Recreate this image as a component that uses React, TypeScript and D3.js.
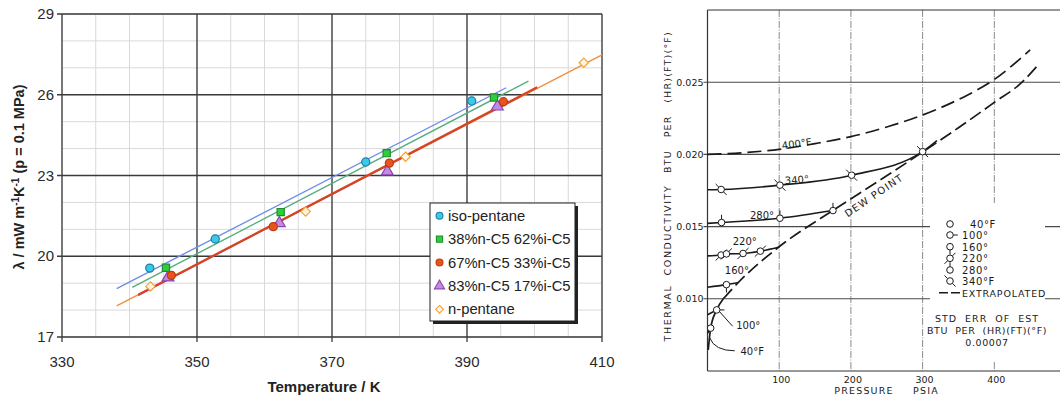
import React from 'react';
import * as d3 from 'd3';

// ---- left panel: thermal conductivity of pentane mixtures ----
const seriesNames = ['iso-pentane', '38%n-C5 62%i-C5', '67%n-C5 33%i-C5', '83%n-C5 17%i-C5', 'n-pentane'];
const seriesTemps = [
  [343.0, 352.7, 375.0, 390.7],
  [345.4, 362.4, 378.1, 394.0],
  [346.2, 361.3, 378.5, 395.4],
  [345.7, 362.2, 378.2, 394.5],
  [343.1, 366.1, 380.9, 407.3],
];
const seriesLambda = [
  [19.56, 20.64, 23.5, 25.77],
  [19.57, 21.64, 23.83, 25.9],
  [19.29, 21.1, 23.46, 25.74],
  [19.21, 21.23, 23.15, 25.56],
  [18.88, 21.66, 23.7, 27.19],
];
// fitted lines, start and end
const fitTemps = [[338.1, 395.8], [340.4, 399.1], [341.3, 400.4], [341.3, 398.0], [338.1, 410.0]];
const fitLambda = [[18.8, 26.26], [18.84, 26.51], [18.57, 26.28], [18.55, 25.95], [18.16, 27.48]];
const tempTicks = [330, 350, 370, 390, 410];
const lambdaTicks = [17, 20, 23, 26, 29];

const fills = ['#3cc8e8', '#2fcc3c', '#e8541e', '#c48ae2', '#fff6e6'];
const strokes = ['#1b7fa6', '#1d8f2c', '#b93c12', '#8a44b0', '#f5a133'];
const lineColors = ['#6f8de8', '#56ad80', '#d8441e', '#9a4cc0', '#f58c3c'];
const symbols = [d3.symbolCircle, d3.symbolSquare, d3.symbolCircle, d3.symbolTriangle, d3.symbolDiamond2];

// ---- right panel: scanned chart, conductivity vs pressure ----
const p400 = [0, 50, 100, 150, 200, 250, 300, 350, 400, 450];
const k400 = [0.02, 0.02012, 0.02035, 0.02075, 0.02123, 0.0219, 0.02273, 0.0238, 0.02519, 0.02724];
const pDew = [1, 4.4, 12.8, 22, 43, 99, 175, 240, 301, 350, 400, 438, 463];
const kDew = [0.00646, 0.00797, 0.00923, 0.01, 0.01113, 0.01357, 0.01612, 0.0182, 0.02019, 0.02185, 0.0236, 0.02497, 0.0263];
const p340 = [0, 19, 101, 201, 300, 320];
const k340 = [0.01755, 0.01757, 0.01787, 0.01856, 0.02019, 0.02095];
const p280 = [0, 19.6, 101, 175];
const k280 = [0.01522, 0.01528, 0.01558, 0.01611];
const p220 = [0, 19, 26.4, 49.6, 73.7, 99];
const k220 = [0.01297, 0.01303, 0.01311, 0.01314, 0.0133, 0.01357];
const p160 = [0, 26.4, 43];
const k160 = [0.0108, 0.01098, 0.01113];
const p100 = [0, 12.8];
const k100 = [0.0089, 0.00923];
const p40 = [0, 4.4];
const k40 = [0.0076, 0.00797];
// measured points on each isotherm
const ptP = [[4.4], [12.8], [26.4], [19, 26.4, 49.6, 73.7], [19.6, 101, 175], [19, 101, 201, 300]];
const ptK = [[0.00797], [0.00923], [0.01098], [0.01303, 0.01311, 0.01314, 0.0133], [0.01528, 0.01558, 0.01611], [0.01757, 0.01787, 0.01856, 0.02019]];
const isoLegend = ['40°F', '100°', '160°', '220°', '280°', '340°F'];
const flagAngles = [[], [0], [90], [-45, 135], [-90], [-135, 45]];
const pressureTicks = [100, 200, 300, 400];
const condTicks = [0.01, 0.015, 0.02, 0.025];

const ink = '#1a1a1a';
const scanFont = '"DejaVu Sans", sans-serif';

function Flagged({ cx, cy, flags }: { cx: number; cy: number; flags: number[] }) {
  const r = 3.3;
  return (
    <g>
      {flags.map((a, i) => {
        const t = (a * Math.PI) / 180;
        return (
          <line key={i} x1={cx + r * Math.cos(t)} y1={cy + r * Math.sin(t)}
            x2={cx + (r + 4.5) * Math.cos(t)} y2={cy + (r + 4.5) * Math.sin(t)}
            stroke={ink} strokeWidth={1} />
        );
      })}
      <circle cx={cx} cy={cy} r={r} fill="#fff" stroke={ink} strokeWidth={1} />
    </g>
  );
}

export default function App() {
  // left panel scales
  const x = d3.scaleLinear().domain([330, 410]).range([62, 602]);
  const y = d3.scaleLinear().domain([17, 29]).range([337, 14]);
  const minorX = d3.range(330, 411, 5);
  const minorY = d3.range(17, 29.5, 1);
  const sym = (i: number, size: number) => d3.symbol().type(symbols[i]).size(size)() as string;
  const drawOrder = [4, 3, 2, 1, 0];

  // right panel scales
  const px = d3.scaleLinear().domain([0, 500]).range([707.5, 1066]);
  const ky = d3.scaleLinear().domain([0.005, 0.03]).range([371, 10]);
  const curve = (ps: number[], ks: number[]) =>
    d3.line<number>().x((p) => px(p)).y((_, i) => ky(ks[i])).curve(d3.curveMonotoneX)(ps) as string;
  const dewSolidN = 4;
  const legX = 950;
  const legY = [224, 235, 246.7, 258.3, 270, 281, 292.7];

  return (
    <svg width={1060} height={397} style={{ position: 'absolute', left: 0, top: 0, background: '#fff' }}>
      {/* ================= LEFT PANEL ================= */}
      <g>
        {minorX.map((t) => (
          <line key={'mx' + t} x1={x(t)} x2={x(t)} y1={y(29)} y2={y(17)} stroke="#d9d9d9" strokeWidth={1} />
        ))}
        {minorY.map((v) => (
          <line key={'my' + v} x1={x(330)} x2={x(410)} y1={y(v)} y2={y(v)} stroke="#d9d9d9" strokeWidth={1} />
        ))}
        {tempTicks.map((t) => (
          <line key={'Mx' + t} x1={x(t)} x2={x(t)} y1={y(29)} y2={y(17) + 5} stroke="#3a3a3a" strokeWidth={1.3} />
        ))}
        {lambdaTicks.map((v) => (
          <line key={'My' + v} x1={x(330) - 5} x2={x(410)} y1={y(v)} y2={y(v)} stroke="#3a3a3a" strokeWidth={1.3} />
        ))}
        {tempTicks.map((t) => (
          <text key={'tx' + t} x={x(t)} y={y(17) + 30} textAnchor="middle" fontFamily="'Liberation Sans', Arial, sans-serif"
            fontSize={15} fill="#2a2a2a">{t}</text>
        ))}
        {lambdaTicks.map((v) => (
          <text key={'ty' + v} x={x(330) - 8} y={y(v) + 5} textAnchor="end" fontFamily="'Liberation Sans', Arial, sans-serif"
            fontSize={15} fill="#2a2a2a">{v}</text>
        ))}
        <text x={324} y={392} textAnchor="middle" fontFamily="'Liberation Sans', Arial, sans-serif" fontWeight="bold"
          fontSize={15} fill="#222">Temperature / K</text>
        <text transform="translate(24,177) rotate(-90)" textAnchor="middle" fontFamily="'Liberation Sans', Arial, sans-serif"
          fontWeight="bold" fontSize={14.5} fill="#222">
          λ / mW m<tspan dy={-5} fontSize={10}>-1</tspan><tspan dy={5}>K</tspan><tspan dy={-5} fontSize={10}>-1</tspan>
          <tspan dy={5}> (p = 0.1 MPa)</tspan>
        </text>

        {drawOrder.map((i) => (
          <line key={'fit' + i} x1={x(fitTemps[i][0])} y1={y(fitLambda[i][0])} x2={x(fitTemps[i][1])} y2={y(fitLambda[i][1])}
            stroke={lineColors[i]} strokeWidth={i === 2 ? 2.2 : 1.4} />
        ))}
        {drawOrder.map((i) =>
          seriesTemps[i].map((t, j) => (
            <path key={'pt' + i + '-' + j} d={sym(i, i === 3 ? 60 : i === 4 ? 55 : 52)}
              transform={`translate(${x(t)},${y(seriesLambda[i][j])})`}
              fill={fills[i]} stroke={strokes[i]} strokeWidth={1.2} />
          ))
        )}

        {/* legend */}
        <rect x={433} y={206} width={145} height={118} fill="#222" />
        <rect x={430} y={203} width={145} height={118} fill="#fff" stroke="#222" strokeWidth={1} />
        {seriesNames.map((name, i) => {
          const ly = 215.7 + i * 23.4;
          return (
            <g key={'lg' + i}>
              <path d={sym(i, i === 3 ? 45 : 38)} transform={`translate(439.5,${ly})`} fill={fills[i]} stroke={strokes[i]} strokeWidth={1.1} />
              <text x={448} y={ly + 5} fontFamily="'Liberation Sans', Arial, sans-serif" fontSize={14.8} fill="#222">{name}</text>
            </g>
          );
        })}
      </g>

      {/* ================= RIGHT PANEL ================= */}
      <g>
        {pressureTicks.map((p) => (
          <line key={'vg' + p} x1={px(p)} x2={px(p)} y1={ky(0.03)} y2={ky(0.005)} stroke="#8a8a8a" strokeWidth={1}
            strokeDasharray="7,1.5,1,1.5" />
        ))}
        {condTicks.map((k) => (
          <line key={'hg' + k} x1={px(0) - 4} x2={1060} y1={ky(k)} y2={ky(k)} stroke="#4a4a4a" strokeWidth={1.1} />
        ))}
        <line x1={px(0)} x2={1060} y1={ky(0.03)} y2={ky(0.03)} stroke="#333" strokeWidth={1.2} />
        <line x1={px(0)} x2={1060} y1={ky(0.005)} y2={ky(0.005)} stroke="#333" strokeWidth={1.2} />
        <line x1={px(0)} x2={px(0)} y1={ky(0.03)} y2={ky(0.005)} stroke="#333" strokeWidth={1.2} />

        {/* blank legend panel */}
        <rect x={930} y={203} width={115} height={158} fill="#fff" />

        {condTicks.map((k) => (
          <text key={'cl' + k} x={px(0) - 4} y={ky(k) + 3.5} textAnchor="end" fontFamily={scanFont} fontSize={9.5}
            fill={ink}>{d3.format('.3f')(k)}</text>
        ))}
        {pressureTicks.map((p) => (
          <text key={'pl' + p} x={px(p) + 2} y={383} textAnchor="middle" fontFamily={scanFont} fontSize={9.5}
            fill={ink}>{p}</text>
        ))}
        <text x={864} y={394} textAnchor="middle" fontFamily={scanFont} fontSize={9.5} letterSpacing={1.2} fill={ink}>PRESSURE</text>
        <text x={926} y={394} textAnchor="middle" fontFamily={scanFont} fontSize={9.5} letterSpacing={1.2} fill={ink}>PSIA</text>
        <text transform="translate(671,263) rotate(-90)" textAnchor="middle" fontFamily={scanFont} fontSize={9.5}
          letterSpacing={1.6} fill={ink} xmlSpace="preserve">THERMAL  CONDUCTIVITY</text>
        <text transform="translate(671,102) rotate(-90)" textAnchor="middle" fontFamily={scanFont} fontSize={9.5}
          letterSpacing={1.2} fill={ink} xmlSpace="preserve">BTU   PER   (HR)(FT)(°F)</text>

        {/* curves */}
        <path d={curve(p400, k400)} fill="none" stroke={ink} strokeWidth={1.7} strokeDasharray="14,6" />
        <path d={curve(pDew.slice(0, dewSolidN), kDew.slice(0, dewSolidN))} fill="none" stroke={ink} strokeWidth={1.7} />
        <path d={curve(pDew.slice(dewSolidN - 1), kDew.slice(dewSolidN - 1))} fill="none" stroke={ink} strokeWidth={1.7}
          strokeDasharray="13,5" />
        <path d={curve(p340, k340)} fill="none" stroke={ink} strokeWidth={1.6} />
        <path d={curve(p280, k280)} fill="none" stroke={ink} strokeWidth={1.6} />
        <path d={curve(p220, k220)} fill="none" stroke={ink} strokeWidth={1.6} />
        <path d={curve(p160, k160)} fill="none" stroke={ink} strokeWidth={1.6} />
        <path d={curve(p100, k100)} fill="none" stroke={ink} strokeWidth={1.6} />
        <path d={curve(p40, k40)} fill="none" stroke={ink} strokeWidth={1.6} />

        {ptP.map((ps, i) =>
          ps.map((p, j) => <Flagged key={'fp' + i + '-' + j} cx={px(p)} cy={ky(ptK[i][j])} flags={flagAngles[i]} />)
        )}

        {/* curve labels */}
        <text transform={`translate(${px(125)},${ky(0.0205)}) rotate(-8)`} textAnchor="middle" fontFamily={scanFont}
          fontSize={10} fill={ink}>400°F</text>
        <text transform={`translate(${px(125)},${ky(0.0180)}) rotate(-4)`} textAnchor="middle" fontFamily={scanFont}
          fontSize={10} fill={ink}>340°</text>
        <text x={px(76)} y={ky(0.0153) - 3} textAnchor="middle" fontFamily={scanFont} fontSize={10} fill={ink}>280°</text>
        <text x={px(52)} y={ky(0.0132) - 8} textAnchor="middle" fontFamily={scanFont} fontSize={10} fill={ink}>220°</text>
        <text x={px(41)} y={ky(0.0111) - 9} textAnchor="middle" fontFamily={scanFont} fontSize={10} fill={ink}>160°</text>
        <text transform={`translate(${px(235)},${ky(0.0180) + 15}) rotate(-34)`} textAnchor="middle" fontFamily={scanFont}
          fontSize={10} letterSpacing={1.2} fill={ink}>DEW POINT</text>
        <line x1={px(17)} y1={ky(0.0091)} x2={px(35)} y2={ky(0.0081)} stroke={ink} strokeWidth={1} />
        <text x={px(40)} y={ky(0.0079)} fontFamily={scanFont} fontSize={10} fill={ink}>100°</text>
        <path d={`M${px(3)},${ky(0.0073)} Q${px(10)},${ky(0.0064)} ${px(38)},${ky(0.0064)}`} fill="none" stroke={ink} strokeWidth={1} />
        <text x={px(46)} y={ky(0.0061)} fontFamily={scanFont} fontSize={10} fill={ink}>40°F</text>

        {/* legend */}
        {isoLegend.map((lab, i) => (
          <g key={'il' + i}>
            <Flagged cx={legX} cy={legY[i]} flags={flagAngles[i]} />
            <text x={i === 0 ? 970 : 962} y={legY[i] + 4} fontFamily={scanFont} fontSize={10} fill={ink}
              letterSpacing={0.6}>{lab}</text>
          </g>
        ))}
        <line x1={939} x2={961} y1={legY[6]} y2={legY[6]} stroke={ink} strokeWidth={1.5} strokeDasharray="9,3" />
        <text x={962} y={legY[6] + 4} fontFamily={scanFont} fontSize={9.5} letterSpacing={0.8} fill={ink}>EXTRAPOLATED</text>
        <text x={987} y={322} textAnchor="middle" fontFamily={scanFont} fontSize={9.5} letterSpacing={1} fill={ink}
          xmlSpace="preserve">STD  ERR  OF  EST</text>
        <text x={987} y={334} textAnchor="middle" fontFamily={scanFont} fontSize={9.5} letterSpacing={0.6} fill={ink}
          xmlSpace="preserve">BTU  PER  (HR)(FT)(°F)</text>
        <text x={987} y={346} textAnchor="middle" fontFamily={scanFont} fontSize={9.5} letterSpacing={0.6} fill={ink}>0.00007</text>
      </g>
    </svg>
  );
}
